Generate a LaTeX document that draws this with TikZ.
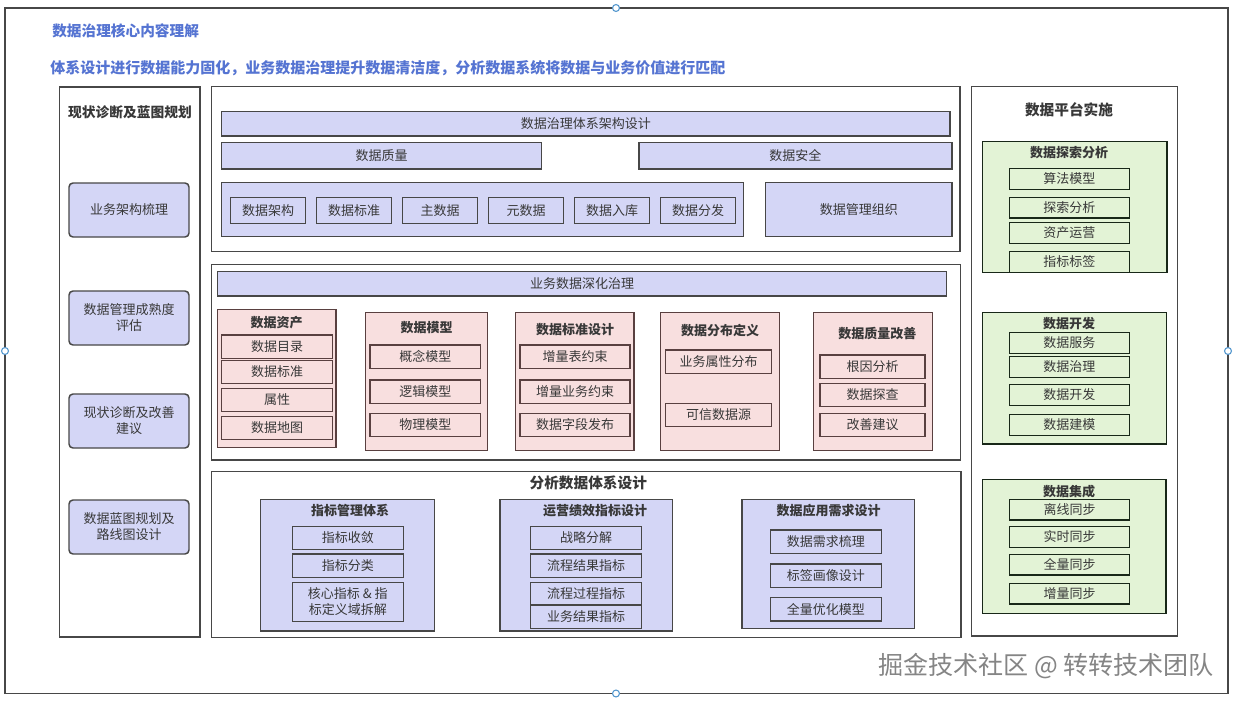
\documentclass[tikz,border=0pt]{standalone}
\usepackage{fontspec}
\setmainfont{Noto Sans CJK SC}
\definecolor{lav}{HTML}{D4D6F6}
\definecolor{pinkf}{HTML}{F8DFDF}
\definecolor{greenf}{HTML}{E3F3D6}
\definecolor{edge}{HTML}{474747}
\definecolor{txt}{HTML}{383838}
\definecolor{ttlblue}{HTML}{5574D2}
\definecolor{handleblue}{HTML}{4F94CD}
\newcommand\mybox[7]{\node[#2, minimum width={(#5-#3)*0.75pt}, minimum height={(#6-#4)*0.75pt}, inner sep=0pt] (#1) at ({(#3+#5)/2},{(#4+#6)/2}) {#7};}
\tikzset{
  base/.style={draw=edge, line width=1.1pt, align=center, text=txt, font=\fontsize{9.75}{12}\selectfont},
  sec/.style={base, fill=white},
  lav/.style={base, fill=lav},
  lavr/.style={lav, rounded corners=3pt},
  pinkb/.style={base, fill=pinkf, draw=edge!90!red},
  greenb/.style={base, fill=greenf, draw=edge!85!green!40!black},
  bt/.style={text=txt, font=\fontsize{9.75}{12}\selectfont\bfseries, inner sep=0pt},
  st/.style={text=txt, font=\fontsize{11}{13}\selectfont\bfseries, inner sep=0pt},
  handle/.style={circle, draw=handleblue, fill=white, line width=0.8pt, minimum size=5.2pt, inner sep=0pt},
}
\begin{document}
\begin{tikzpicture}[x=0.75pt,y=-0.75pt]
\useasboundingbox (0,0) rectangle (1233,701);
\fill[white] (0,0) rectangle (1233,701);
% outer frame
\mybox{outer}{base}{5}{8}{1228}{693.5}{}
% titles
\node[anchor=west, text=ttlblue, font=\fontsize{11}{13}\selectfont\bfseries, inner sep=0pt] (title1) at (52,31) {数据治理核心内容理解};
\node[anchor=west, text=ttlblue, font=\fontsize{11.25}{13}\selectfont\bfseries, inner sep=0pt] (title2) at (50,68) {体系设计进行数据能力固化，业务数据治理提升数据清洁度，分析数据系统将数据与业务价值进行匹配};
% left column
\mybox{lcol}{sec}{59.5}{87}{200}{637}{}
\node[st, font=\fontsize{10.3}{12}\selectfont\bfseries] (lcolt) at (130,112) {现状诊断及蓝图规划};
\mybox{l1}{lavr}{69}{183}{189}{237}{业务架构梳理}
\mybox{l2}{lavr}{69}{291}{189}{345}{数据管理成熟度\\评估}
\mybox{l3}{lavr}{69}{394}{189}{448}{现状诊断及改善\\建议}
\mybox{l4}{lavr}{69}{500}{189}{554}{数据蓝图规划及\\路线图设计}
% top section
\mybox{topsec}{sec}{211.7}{86.7}{960}{251.7}{}
\mybox{arch}{lav}{221.7}{111.7}{950}{136}{数据治理体系架构设计}
\mybox{dq}{lav}{221.7}{142.7}{541.7}{169}{数据质量}
\mybox{dsec}{lav}{638.8}{142.7}{952}{169}{数据安全}
\mybox{cont}{lav}{221.7}{182.7}{743.7}{236.7}{}
\mybox{c1}{lav}{230.7}{197.3}{305.3}{223.3}{数据架构}
\mybox{c2}{lav}{316.7}{197.3}{391.3}{223.3}{数据标准}
\mybox{c3}{lav}{402.7}{197.3}{477.3}{223.3}{主数据}
\mybox{c4}{lav}{488.7}{197.3}{563.3}{223.3}{元数据}
\mybox{c5}{lav}{574.7}{197.3}{649.3}{223.3}{数据入库}
\mybox{c6}{lav}{660.7}{197.3}{735.3}{223.3}{数据分发}
\mybox{org}{lav}{765.5}{182.7}{952}{236.7}{数据管理组织}
% middle section
\mybox{midsec}{sec}{211.7}{264.3}{960.5}{460}{}
\mybox{deep}{lav}{217.7}{271.7}{946.4}{296}{业务数据深化治理}
% 数据资产
\mybox{asset}{pinkb}{217.3}{309.3}{336}{447.7}{}
\node[bt] (assett) at (276.7,323) {数据资产};
\mybox{a1}{pinkb}{221.7}{335}{332.3}{358.3}{数据目录}
\mybox{a2}{pinkb}{221.7}{360.7}{332.3}{383.3}{数据标准}
\mybox{a3}{pinkb}{221.7}{388.3}{332.3}{411.7}{属性}
\mybox{a4}{pinkb}{221.7}{416.7}{332.3}{439.3}{数据地图}
% 数据模型
\mybox{model}{pinkb}{365.7}{312.7}{487.3}{450.7}{}
\node[bt] (modelt) at (426.5,327.7) {数据模型};
\mybox{m1}{pinkb}{370}{345}{480.7}{368.3}{概念模型}
\mybox{m2}{pinkb}{370}{380}{480.7}{403.3}{逻辑模型}
\mybox{m3}{pinkb}{370}{413.3}{480.7}{436.7}{物理模型}
% 数据标准设计
\mybox{std}{pinkb}{515.7}{312.7}{634}{450.7}{}
\node[bt] (stdt) at (575,330) {数据标准设计};
\mybox{s1}{pinkb}{520}{345}{630}{368.3}{增量表约束}
\mybox{s2}{pinkb}{520}{380}{630}{403.3}{增量业务约束}
\mybox{s3}{pinkb}{520}{413.3}{630}{436.7}{数据字段发布}
% 数据分布定义
\mybox{dist}{pinkb}{660.7}{312.7}{779.3}{450.7}{}
\node[bt] (distt) at (720,331) {数据分布定义};
\mybox{d1}{pinkb}{665.7}{350}{771.3}{373.3}{业务属性分布}
\mybox{d2}{pinkb}{665.7}{403.3}{771.3}{426.7}{可信数据源}
% 数据质量改善
\mybox{qual}{pinkb}{813.7}{312.7}{932.3}{450.7}{}
\node[bt] (qualt) at (877.3,333.3) {数据质量改善};
\mybox{q1}{pinkb}{820}{355}{925}{378.3}{根因分析}
\mybox{q2}{pinkb}{820}{383.3}{925}{406.7}{数据探查}
\mybox{q3}{pinkb}{820}{413.3}{925}{436.7}{改善建议}
% bottom section
\mybox{botsec}{sec}{211.7}{471.7}{960.8}{637.3}{}
\node[st] (bott) at (588.3,483) {分析数据体系设计};
\mybox{ind}{lav}{260.7}{499.3}{434.3}{631}{}
\node[bt] (indt) at (350,510.7) {指标管理体系};
\mybox{i1}{lav}{292.3}{526.7}{403.3}{549.3}{指标收敛}
\mybox{i2}{lav}{292.3}{554}{403.3}{577.3}{指标分类}
\mybox{i3}{lav}{292.3}{582.3}{403.3}{621.7}{核心指标 \& 指\\标定义域拆解}
\mybox{ops}{lav}{500}{499.3}{672.3}{631}{}
\node[bt] (opst) at (595,510.7) {运营绩效指标设计};
\mybox{o1}{lav}{530.7}{526.7}{641.7}{549.3}{战略分解}
\mybox{o2}{lav}{530.7}{554}{641.7}{577.3}{流程结果指标}
\mybox{o3}{lav}{530.7}{582.3}{641.7}{605}{流程过程指标}
\mybox{o4}{lav}{530.7}{605}{641.7}{628.3}{业务结果指标}
\mybox{app}{lav}{742}{499.3}{914.4}{628.3}{}
\node[bt] (appt) at (828.5,510.7) {数据应用需求设计};
\mybox{p1}{lav}{770.3}{530}{881.5}{553.3}{数据需求梳理}
\mybox{p2}{lav}{770.3}{564}{881.5}{587.3}{标签画像设计}
\mybox{p3}{lav}{770.3}{597.7}{881.5}{621}{全量优化模型}
% right column
\mybox{rcol}{sec}{971.5}{86.7}{1177.4}{636}{}
\node[st] (rcolt) at (1069,110) {数据平台实施};
\mybox{exp}{greenb}{982.7}{141.7}{1166.8}{272.3}{}
\node[bt] (expt) at (1069,152.7) {数据探索分析};
\mybox{e1}{greenb}{1009.4}{168.7}{1129.3}{189.3}{算法模型}
\mybox{e2}{greenb}{1009.4}{197.3}{1129.3}{218}{探索分析}
\mybox{e3}{greenb}{1009.4}{222.7}{1129.3}{243.3}{资产运营}
\mybox{e4}{greenb}{1009.4}{251.7}{1129.3}{272.3}{指标标签}
\mybox{dev}{greenb}{982.7}{312.7}{1166.7}{444}{}
\node[bt] (devt) at (1069,323.3) {数据开发};
\mybox{v1}{greenb}{1009.3}{332.3}{1129.3}{353.3}{数据服务}
\mybox{v2}{greenb}{1009.3}{356.7}{1129.3}{377.3}{数据治理}
\mybox{v3}{greenb}{1009.3}{384.3}{1129.3}{405.3}{数据开发}
\mybox{v4}{greenb}{1009.3}{414.3}{1129.3}{435.3}{数据建模}
\mybox{integ}{greenb}{982.6}{479.3}{1166}{613.3}{}
\node[bt] (integt) at (1069,491.5) {数据集成};
\mybox{g1}{greenb}{1009.3}{499.3}{1129.7}{520}{离线同步}
\mybox{g2}{greenb}{1009.3}{526.7}{1129.7}{547.3}{实时同步}
\mybox{g3}{greenb}{1009.3}{554.3}{1129.7}{575}{全量同步}
\mybox{g4}{greenb}{1009.3}{583.3}{1129.7}{604}{增量同步}
% watermark
\node[anchor=west, text=black!48, font=\fontsize{18.8}{21}\selectfont, inner sep=0pt] (wm) at (878,666.5) {掘金技术社区 @ 转转技术团队};
% handles
\node[handle] (h1) at (616,8) {};
\node[handle] (h2) at (5,351) {};
\node[handle] (h3) at (1228,351) {};
\node[handle] (h4) at (616,693.5) {};
\end{tikzpicture}
\end{document}
